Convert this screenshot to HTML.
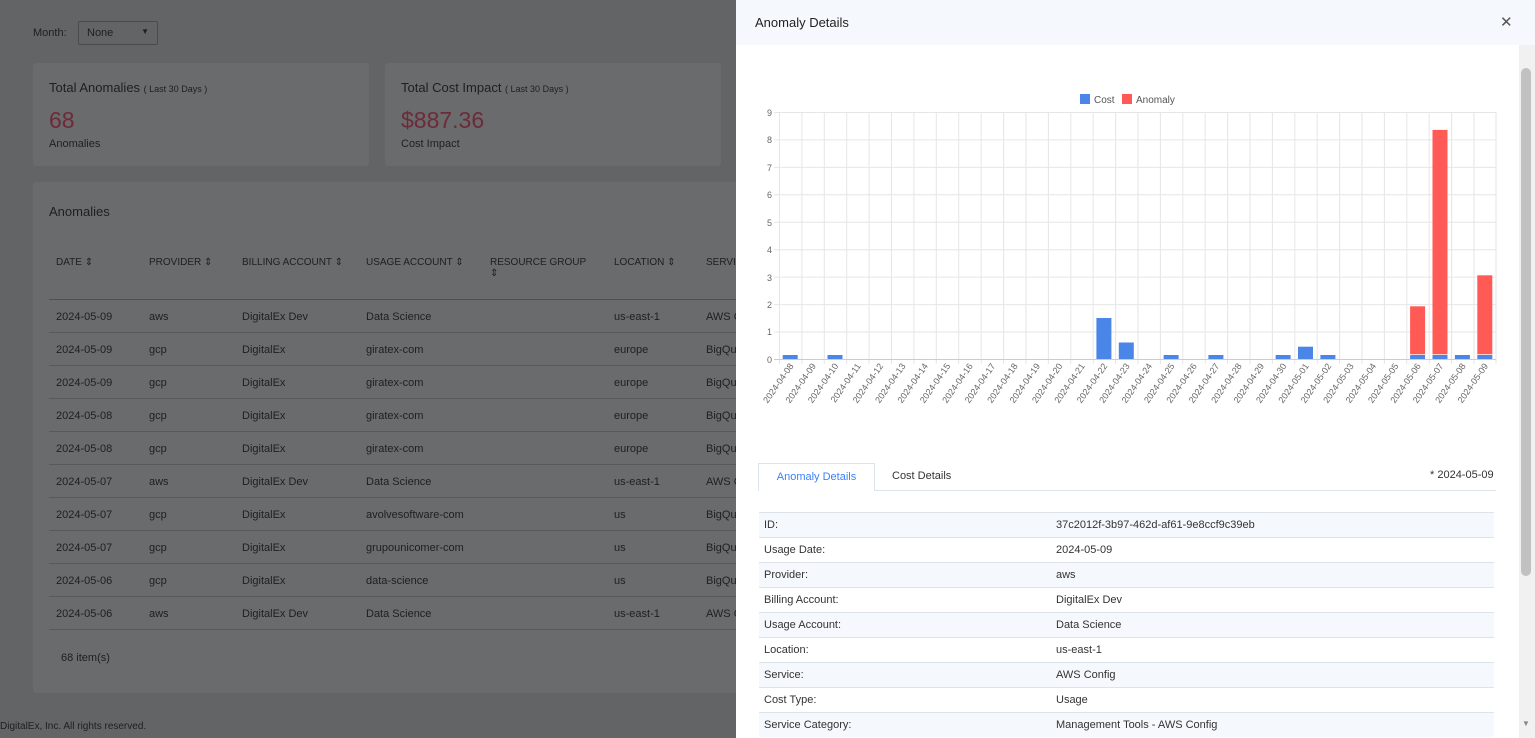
<!DOCTYPE html>
<html><head><meta charset="utf-8"><style>
*{margin:0;padding:0;box-sizing:border-box}
body{width:1535px;height:738px;overflow:hidden;background:#636466;font-family:"Liberation Sans",sans-serif;position:relative;color:#1e1f20}
.a{position:absolute;white-space:nowrap}
.card{position:absolute;background:#6a6b6d;border-radius:3px}
.s{font-size:11px}
.row{position:absolute;left:49px;width:700px;height:33px;border-bottom:1px solid #58595b;font-size:11px}
.row span{position:absolute;top:11px}
.panel{position:absolute;left:736px;top:0;width:799px;height:738px;background:#fff}
.tr{position:absolute;left:23px;width:735px;height:25px;border-top:1px solid #dde3ea;font-size:11px;color:#333}
.tr span{position:absolute;top:6px}
</style></head><body>
<div class="a s" style="left:33px;top:27px">Month:</div>
<div class="a" style="left:78px;top:21px;width:80px;height:24px;border:1px solid #4a4b4d;border-radius:2px;font-size:11px;padding:5px 8px">None<span style="position:absolute;right:8px;top:5px;font-size:8px">▼</span></div>
<div class="card" style="left:33px;top:63px;width:336px;height:103px"></div>
<div class="card" style="left:385px;top:63px;width:336px;height:103px"></div>
<div class="a" style="left:49px;top:80px;font-size:13px">Total Anomalies <span style="font-size:9px">( Last 30 Days )</span></div>
<div class="a" style="left:49px;top:107px;font-size:23px;color:#6d2a38">68</div>
<div class="a s" style="left:49px;top:138px">Anomalies</div>
<div class="a" style="left:401px;top:80px;font-size:13px">Total Cost Impact <span style="font-size:9px">( Last 30 Days )</span></div>
<div class="a" style="left:401px;top:107px;font-size:23px;color:#6d2a38">$887.36</div>
<div class="a s" style="left:401px;top:138px">Cost Impact</div>
<div class="card" style="left:33px;top:182px;width:710px;height:511px"></div>
<div class="a" style="left:49px;top:204px;font-size:13px">Anomalies</div>
<div class="a" style="left:56px;top:257px;font-size:10px">DATE ⇕</div>
<div class="a" style="left:149px;top:257px;font-size:10px">PROVIDER ⇕</div>
<div class="a" style="left:242px;top:257px;font-size:10px">BILLING ACCOUNT ⇕</div>
<div class="a" style="left:366px;top:257px;font-size:10px">USAGE ACCOUNT ⇕</div>
<div class="a" style="left:490px;top:257px;font-size:10px">RESOURCE GROUP<br>⇕</div>
<div class="a" style="left:614px;top:257px;font-size:10px">LOCATION ⇕</div>
<div class="a" style="left:706px;top:257px;font-size:10px">SERVICE</div>
<div style="position:absolute;left:49px;top:299px;width:700px;border-top:1px solid #4e4f51"></div>
<div class="row" style="top:300px"><span style="left:7px">2024-05-09</span><span style="left:100px">aws</span><span style="left:193px">DigitalEx Dev</span><span style="left:317px">Data Science</span><span style="left:565px">us-east-1</span><span style="left:657px">AWS C</span></div>
<div class="row" style="top:333px"><span style="left:7px">2024-05-09</span><span style="left:100px">gcp</span><span style="left:193px">DigitalEx</span><span style="left:317px">giratex-com</span><span style="left:565px">europe</span><span style="left:657px">BigQu</span></div>
<div class="row" style="top:366px"><span style="left:7px">2024-05-09</span><span style="left:100px">gcp</span><span style="left:193px">DigitalEx</span><span style="left:317px">giratex-com</span><span style="left:565px">europe</span><span style="left:657px">BigQu</span></div>
<div class="row" style="top:399px"><span style="left:7px">2024-05-08</span><span style="left:100px">gcp</span><span style="left:193px">DigitalEx</span><span style="left:317px">giratex-com</span><span style="left:565px">europe</span><span style="left:657px">BigQu</span></div>
<div class="row" style="top:432px"><span style="left:7px">2024-05-08</span><span style="left:100px">gcp</span><span style="left:193px">DigitalEx</span><span style="left:317px">giratex-com</span><span style="left:565px">europe</span><span style="left:657px">BigQu</span></div>
<div class="row" style="top:465px"><span style="left:7px">2024-05-07</span><span style="left:100px">aws</span><span style="left:193px">DigitalEx Dev</span><span style="left:317px">Data Science</span><span style="left:565px">us-east-1</span><span style="left:657px">AWS C</span></div>
<div class="row" style="top:498px"><span style="left:7px">2024-05-07</span><span style="left:100px">gcp</span><span style="left:193px">DigitalEx</span><span style="left:317px">avolvesoftware-com</span><span style="left:565px">us</span><span style="left:657px">BigQu</span></div>
<div class="row" style="top:531px"><span style="left:7px">2024-05-07</span><span style="left:100px">gcp</span><span style="left:193px">DigitalEx</span><span style="left:317px">grupounicomer-com</span><span style="left:565px">us</span><span style="left:657px">BigQu</span></div>
<div class="row" style="top:564px"><span style="left:7px">2024-05-06</span><span style="left:100px">gcp</span><span style="left:193px">DigitalEx</span><span style="left:317px">data-science</span><span style="left:565px">us</span><span style="left:657px">BigQu</span></div>
<div class="row" style="top:597px"><span style="left:7px">2024-05-06</span><span style="left:100px">aws</span><span style="left:193px">DigitalEx Dev</span><span style="left:317px">Data Science</span><span style="left:565px">us-east-1</span><span style="left:657px">AWS C</span></div>
<div class="a s" style="left:61px;top:652px">68 item(s)</div>
<div class="a" style="left:0;top:721px;font-size:10px">DigitalEx, Inc. All rights reserved.</div>

<div class="panel">
<div style="position:absolute;left:0;top:0;width:799px;height:45px;background:#f5f8fc"></div>
<div class="a" style="left:19px;top:15px;font-size:13px;color:#222">Anomaly Details</div>
<div class="a" style="left:764px;top:13px;font-size:15px;color:#555">✕</div>
<div style="position:absolute;left:783px;top:45px;width:16px;height:693px;background:#f1f1f1"></div>
<div style="position:absolute;left:785px;top:68px;width:10px;height:508px;background:#c1c1c1;border-radius:5px"></div>
<div class="a" style="left:786px;top:719px;font-size:8px;color:#888">▼</div>
<div class="a" style="left:22px;top:463px;width:117px;height:28px;border:1px solid #dde3ea;border-bottom:none;background:#fff;font-size:11px;color:#3b82f6;padding:7px 0;text-align:center">Anomaly Details</div>
<div class="a" style="left:156px;top:470px;font-size:11px;color:#333">Cost Details</div>
<div class="a" style="left:694px;top:469px;font-size:11px;color:#333">* 2024-05-09</div>
<div style="position:absolute;left:139px;top:490px;width:621px;border-top:1px solid #dde3ea"></div>
<div class="tr" style="top:512px;background:#f5f8fc"><span style="left:5px">ID:</span><span style="left:297px">37c2012f-3b97-462d-af61-9e8ccf9c39eb</span></div>
<div class="tr" style="top:537px"><span style="left:5px">Usage Date:</span><span style="left:297px">2024-05-09</span></div>
<div class="tr" style="top:562px;background:#f5f8fc"><span style="left:5px">Provider:</span><span style="left:297px">aws</span></div>
<div class="tr" style="top:587px"><span style="left:5px">Billing Account:</span><span style="left:297px">DigitalEx Dev</span></div>
<div class="tr" style="top:612px;background:#f5f8fc"><span style="left:5px">Usage Account:</span><span style="left:297px">Data Science</span></div>
<div class="tr" style="top:637px"><span style="left:5px">Location:</span><span style="left:297px">us-east-1</span></div>
<div class="tr" style="top:662px;background:#f5f8fc"><span style="left:5px">Service:</span><span style="left:297px">AWS Config</span></div>
<div class="tr" style="top:687px"><span style="left:5px">Cost Type:</span><span style="left:297px">Usage</span></div>
<div class="tr" style="top:712px;background:#f5f8fc"><span style="left:5px">Service Category:</span><span style="left:297px">Management Tools - AWS Config</span></div>
</div>

<svg style="position:absolute;left:0;top:0" width="1535" height="738" font-family="Liberation Sans, sans-serif">
<rect x="1080" y="94" width="10" height="10" fill="#4a86e8"/><text x="1094" y="103" font-size="10" fill="#555">Cost</text>
<rect x="1122" y="94" width="10" height="10" fill="#ff5a55"/><text x="1136" y="103" font-size="10" fill="#555">Anomaly</text>
<g stroke="#e6e6e6" stroke-width="1">
<line x1="774" y1="112.5" x2="1496" y2="112.5"/><line x1="774" y1="139.9" x2="1496" y2="139.9"/><line x1="774" y1="167.4" x2="1496" y2="167.4"/><line x1="774" y1="194.8" x2="1496" y2="194.8"/><line x1="774" y1="222.3" x2="1496" y2="222.3"/><line x1="774" y1="249.7" x2="1496" y2="249.7"/><line x1="774" y1="277.1" x2="1496" y2="277.1"/><line x1="774" y1="304.6" x2="1496" y2="304.6"/><line x1="774" y1="332" x2="1496" y2="332"/>
<line x1="779.5" y1="112" x2="779.5" y2="364"/><line x1="801.9" y1="112" x2="801.9" y2="364"/><line x1="824.3" y1="112" x2="824.3" y2="364"/><line x1="846.7" y1="112" x2="846.7" y2="364"/><line x1="869.1" y1="112" x2="869.1" y2="364"/><line x1="891.5" y1="112" x2="891.5" y2="364"/><line x1="913.9" y1="112" x2="913.9" y2="364"/><line x1="936.3" y1="112" x2="936.3" y2="364"/><line x1="958.7" y1="112" x2="958.7" y2="364"/><line x1="981.2" y1="112" x2="981.2" y2="364"/><line x1="1003.6" y1="112" x2="1003.6" y2="364"/><line x1="1026" y1="112" x2="1026" y2="364"/><line x1="1048.4" y1="112" x2="1048.4" y2="364"/><line x1="1070.8" y1="112" x2="1070.8" y2="364"/><line x1="1093.2" y1="112" x2="1093.2" y2="364"/><line x1="1115.6" y1="112" x2="1115.6" y2="364"/><line x1="1138" y1="112" x2="1138" y2="364"/><line x1="1160.4" y1="112" x2="1160.4" y2="364"/><line x1="1182.8" y1="112" x2="1182.8" y2="364"/><line x1="1205.2" y1="112" x2="1205.2" y2="364"/><line x1="1227.6" y1="112" x2="1227.6" y2="364"/><line x1="1250" y1="112" x2="1250" y2="364"/><line x1="1272.4" y1="112" x2="1272.4" y2="364"/><line x1="1294.8" y1="112" x2="1294.8" y2="364"/><line x1="1317.2" y1="112" x2="1317.2" y2="364"/><line x1="1339.6" y1="112" x2="1339.6" y2="364"/><line x1="1362" y1="112" x2="1362" y2="364"/><line x1="1384.4" y1="112" x2="1384.4" y2="364"/><line x1="1406.8" y1="112" x2="1406.8" y2="364"/><line x1="1429.2" y1="112" x2="1429.2" y2="364"/><line x1="1451.6" y1="112" x2="1451.6" y2="364"/><line x1="1474" y1="112" x2="1474" y2="364"/><line x1="1496" y1="112" x2="1496" y2="364"/>
</g>
<line x1="774" y1="359.5" x2="1496" y2="359.5" stroke="#ccc"/>
<g font-size="9" fill="#666" text-anchor="end">
<text x="772" y="363">0</text><text x="772" y="335">1</text><text x="772" y="308">2</text><text x="772" y="281">3</text><text x="772" y="253">4</text><text x="772" y="226">5</text><text x="772" y="198">6</text><text x="772" y="171">7</text><text x="772" y="143">8</text><text x="772" y="116">9</text>
</g>
<g fill="#4a86e8">
<rect x="782.7" y="355" width="15" height="4"/><rect x="827.5" y="355" width="15" height="4"/><rect x="1096.4" y="318" width="15" height="41"/><rect x="1118.8" y="342.5" width="15" height="16.5"/><rect x="1163.6" y="355" width="15" height="4"/><rect x="1208.4" y="355" width="15" height="4"/><rect x="1275.6" y="355" width="15" height="4"/><rect x="1298" y="346.7" width="15" height="12.3"/><rect x="1320.4" y="355" width="15" height="4"/><rect x="1410.1" y="355" width="15" height="4"/><rect x="1432.5" y="355" width="15" height="4"/><rect x="1454.9" y="355" width="15" height="4"/><rect x="1477.3" y="355" width="15" height="4"/>
</g>
<g fill="#ff5a55">
<rect x="1410.1" y="306.3" width="15" height="48"/><rect x="1432.5" y="129.9" width="15" height="224.4"/><rect x="1477.3" y="275.3" width="15" height="79"/>
</g>
<g font-size="9" fill="#666" text-anchor="end">
<text transform="translate(794,366) rotate(-55)">2024-04-08</text><text transform="translate(816.4,366) rotate(-55)">2024-04-09</text><text transform="translate(838.8,366) rotate(-55)">2024-04-10</text><text transform="translate(861.2,366) rotate(-55)">2024-04-11</text><text transform="translate(883.6,366) rotate(-55)">2024-04-12</text><text transform="translate(906,366) rotate(-55)">2024-04-13</text><text transform="translate(928.4,366) rotate(-55)">2024-04-14</text><text transform="translate(950.8,366) rotate(-55)">2024-04-15</text><text transform="translate(973.2,366) rotate(-55)">2024-04-16</text><text transform="translate(995.7,366) rotate(-55)">2024-04-17</text><text transform="translate(1018.1,366) rotate(-55)">2024-04-18</text><text transform="translate(1040.5,366) rotate(-55)">2024-04-19</text><text transform="translate(1062.9,366) rotate(-55)">2024-04-20</text><text transform="translate(1085.3,366) rotate(-55)">2024-04-21</text><text transform="translate(1107.7,366) rotate(-55)">2024-04-22</text><text transform="translate(1130.1,366) rotate(-55)">2024-04-23</text><text transform="translate(1152.5,366) rotate(-55)">2024-04-24</text><text transform="translate(1174.9,366) rotate(-55)">2024-04-25</text><text transform="translate(1197.3,366) rotate(-55)">2024-04-26</text><text transform="translate(1219.7,366) rotate(-55)">2024-04-27</text><text transform="translate(1242.1,366) rotate(-55)">2024-04-28</text><text transform="translate(1264.5,366) rotate(-55)">2024-04-29</text><text transform="translate(1286.9,366) rotate(-55)">2024-04-30</text><text transform="translate(1309.3,366) rotate(-55)">2024-05-01</text><text transform="translate(1331.7,366) rotate(-55)">2024-05-02</text><text transform="translate(1354.1,366) rotate(-55)">2024-05-03</text><text transform="translate(1376.5,366) rotate(-55)">2024-05-04</text><text transform="translate(1398.9,366) rotate(-55)">2024-05-05</text><text transform="translate(1421.3,366) rotate(-55)">2024-05-06</text><text transform="translate(1443.7,366) rotate(-55)">2024-05-07</text><text transform="translate(1466.1,366) rotate(-55)">2024-05-08</text><text transform="translate(1488.5,366) rotate(-55)">2024-05-09</text>
</g>
</svg>
</body></html>
